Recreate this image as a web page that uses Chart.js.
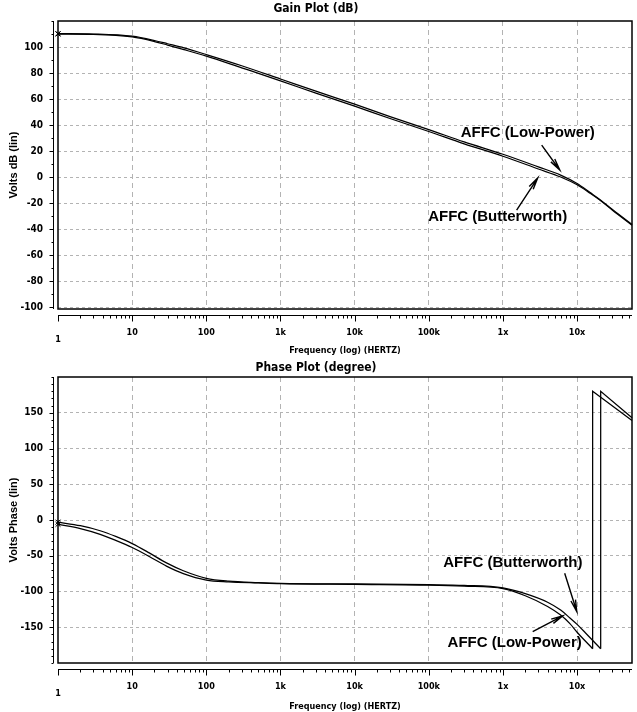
<!DOCTYPE html>
<html>
<head>
<meta charset="utf-8">
<script src="https://cdn.jsdelivr.net/npm/chart.js@4"></script>
<style>
  html, body { margin: 0; padding: 0; background: #fff; }
  .box { position: absolute; left: 0; width: 637px; height: 356px; }
</style>
</head>
<body>
<div class="box" style="top:0"><canvas id="gainChart" width="637" height="356"></canvas></div>
<div class="box" style="top:356px"><canvas id="phaseChart" width="637" height="356"></canvas></div>
<script>
// x axis (log frequency)
const freqTicks = [1, 10, 100, 1e3, 1e4, 1e5, 1e6, 1e7];
const freqLabels = ['1', '10', '100', '1k', '10k', '100k', '1x', '10x'];

// y axis tick values
const gainTicks = [100, 80, 60, 40, 20, 0, -20, -40, -60, -80, -100];
const phaseTicks = [150, 100, 50, 0, -50, -100, -150];

// gain curves (dB)
const gainFreq = [1, 3, 10, 20, 30, 50, 100, 300, 1e3, 3e3, 1e4, 3e4, 1e5, 3e5, 1e6, 3e6, 6e6, 1e7, 1.5e7, 2e7, 3e7, 5.5e7];
const gainLowPower = [110.3, 110, 108.3, 105, 102.5, 99.3, 94.2, 85.6, 75.4, 66, 56, 46.5, 36.5, 27, 17.5, 7.8, 1.5, -5, -12, -17, -25, -36.5];
const gainButterworth = [110, 109.7, 107.7, 104.2, 101.5, 98, 93, 84, 74, 64.5, 54.5, 45, 35, 25.5, 16, 6.2, 0, -6, -12.5, -17.5, -25.5, -37];

// phase curves (degree), the repeated frequency is the wrap from -180 to +180
const phaseFreqLowPower = [1, 2, 3.7, 6, 10, 17, 29, 49, 100, 200, 500, 1e3, 1e4, 1e5, 3e5, 1e6, 2e6, 4e6, 6e6, 8e6, 1e7, 1.62e7, 1.62e7, 5.5e7];
const phaseLowPower = [-6, -12, -20, -28.5, -38.5, -51, -64.5, -75, -84, -86.5, -88, -89, -90, -91, -92.5, -96, -106, -121, -133, -145, -157, -180, 180, 139];
const phaseFreqButterworth = [1, 2, 3.7, 6, 10, 17, 29, 49, 100, 200, 500, 1e3, 1e4, 1e5, 3e5, 1e6, 2e6, 4e6, 6e6, 8e6, 1e7, 1.3e7, 2.08e7, 2.08e7, 5.5e7];
const phaseButterworth = [-3, -8, -15, -23, -33, -46, -60, -71, -81.5, -85.5, -87.5, -88.5, -89.5, -90.5, -91.5, -95, -103, -115, -126, -137, -146, -158, -180, 180, 143];

const NARROW = '"Liberation Sans Narrow", "Arial Narrow", "DejaVu Sans Condensed", sans-serif';
const SANS = '"Liberation Sans", Arial, sans-serif';
const GRID = '#b3b3b3';

function drawArrow(ctx, x1, y1, x2, y2) {
  const ang = Math.atan2(y2 - y1, x2 - x1), len = 12, spread = 0.2;
  ctx.beginPath();
  ctx.moveTo(x1, y1);
  ctx.lineTo(x2, y2);
  ctx.moveTo(x2 - len * Math.cos(ang - spread), y2 - len * Math.sin(ang - spread));
  ctx.lineTo(x2, y2);
  ctx.lineTo(x2 - len * Math.cos(ang + spread), y2 - len * Math.sin(ang + spread));
  ctx.stroke();
}

// frame, separate axis strips and the text notes
const axisStrips = {
  id: 'axisStrips',
  afterDraw(chart, args, opts) {
    const { ctx, chartArea: a, scales: { x, y } } = chart;
    ctx.save();
    ctx.strokeStyle = '#000';
    ctx.lineWidth = 1.5;
    ctx.strokeRect(a.left, a.top, a.right - a.left, a.bottom - a.top);

    ctx.lineWidth = 1;
    ctx.beginPath();
    const sy = a.bottom + 6.5;
    ctx.moveTo(a.left, sy);
    ctx.lineTo(a.right, sy);
    for (let d = 1; d <= x.max; d *= 10) {
      for (let k = 1; k < 10; k++) {
        const v = k * d;
        if (v > x.max) break;
        const px = Math.round(x.getPixelForValue(v)) + 0.5;
        ctx.moveTo(px, sy);
        ctx.lineTo(px, sy + (k === 1 ? 6 : 3));
      }
    }
    const sx = a.left - 4.5;
    ctx.moveTo(sx, a.top);
    ctx.lineTo(sx, a.bottom);
    for (let v = Math.ceil(y.min / 10) * 10; v <= y.max; v += 10) {
      const py = Math.round(y.getPixelForValue(v)) + 0.5;
      ctx.moveTo(sx, py);
      ctx.lineTo(sx - (opts.major.includes(v) ? 4 : 2), py);
    }
    ctx.stroke();

    ctx.fillStyle = '#000';
    ctx.font = 'bold 15px ' + SANS;
    ctx.textAlign = 'center';
    ctx.textBaseline = 'middle';
    opts.notes.forEach(n => {
      ctx.fillText(n.text, x.getPixelForValue(n.at[0]), y.getPixelForValue(n.at[1]));
    });
    ctx.lineWidth = 1.4;
    opts.arrows.forEach(r => {
      drawArrow(ctx, x.getPixelForValue(r.from[0]), y.getPixelForValue(r.from[1]),
                     x.getPixelForValue(r.to[0]), y.getPixelForValue(r.to[1]));
    });
    ctx.restore();
  }
};

function series(freq, vals, linear) {
  return {
    data: freq.map((f, i) => ({ x: f, y: vals[i] })),
    borderColor: '#000',
    borderWidth: 1.25,
    pointStyle: 'crossRot',
    pointRadius: c => c.dataIndex === 0 ? 3.5 : 0,
    pointBorderColor: '#000',
    pointBorderWidth: 1,
    cubicInterpolationMode: linear ? 'default' : 'monotone',
    tension: 0,
    fill: false,
    clip: false
  };
}

// smooth part up to the wrap, straight part from the wrap on
function phaseSets(freq, vals) {
  const j = freq.findIndex((f, i) => i > 0 && f === freq[i - 1]);
  const tail = series(freq.slice(j - 1), vals.slice(j - 1), true);
  tail.pointRadius = 0;
  return [series(freq.slice(0, j), vals.slice(0, j)), tail];
}

function makeChart(id, o) {
  return new Chart(document.getElementById(id), {
    type: 'line',
    data: { datasets: o.datasets },
    plugins: [axisStrips],
    options: {
      responsive: false,
      animation: false,
      layout: { padding: { left: 0, right: 5, top: 0, bottom: 0 } },
      plugins: {
        legend: { display: false },
        tooltip: { enabled: false },
        title: {
          display: true, text: o.title, color: '#000',
          font: { family: NARROW, size: 12, weight: 'bold', lineHeight: 1 },
          padding: o.titlePad
        },
        axisStrips: { major: o.yTicks, notes: o.notes, arrows: o.arrows }
      },
      scales: {
        x: {
          type: 'logarithmic', min: 1, max: 5.5e7,
          afterBuildTicks: s => { s.ticks = freqTicks.map(v => ({ value: v })); },
          afterFit: s => { s.height = o.xHeight; },
          ticks: {
            autoSkip: false, maxRotation: 0, padding: 18, color: '#000',
            font: c => ({ family: NARROW, size: 9, weight: 'bold', lineHeight: c.index === 0 ? 2.8 : 1.2 }),
            callback: (v, i) => freqLabels[i]
          },
          grid: { drawTicks: false, lineWidth: 1, color: c => c.index === 0 ? 'rgba(0,0,0,0)' : GRID },
          border: { display: false, dash: [5, 4] },
          title: {
            display: true, text: 'Frequency (log) (HERTZ)', color: '#000',
            font: { family: NARROW, size: 9, weight: 'bold', lineHeight: 1.2 },
            padding: { top: o.xTitlePad, bottom: 0 }
          }
        },
        y: {
          min: o.yMin, max: o.yMax,
          afterBuildTicks: s => { s.ticks = o.yTicks.map(v => ({ value: v })); },
          afterFit: s => { s.width = 58; },
          ticks: {
            padding: 15, color: '#000',
            font: { family: NARROW, size: 10, weight: 'bold' },
            callback: v => String(v)
          },
          grid: { drawTicks: false, lineWidth: 1, color: GRID },
          border: { display: false, dash: [3, 3] },
          title: {
            display: true, text: o.yTitle, color: '#000',
            font: { family: SANS, size: 11, weight: 'bold', lineHeight: 1.2 },
            padding: { top: 7.4, bottom: 0 }
          }
        }
      }
    }
  });
}

makeChart('gainChart', {
  title: 'Gain Plot (dB)',
  titlePad: { top: 3, bottom: 6 },
  xHeight: 47,
  xTitlePad: 5,
  yMin: -101.5, yMax: 120,
  yTicks: gainTicks,
  yTitle: 'Volts dB (lin)',
  datasets: [series(gainFreq, gainLowPower), series(gainFreq, gainButterworth)],
  notes: [
    { text: 'AFFC (Low-Power)', at: [2.16e6, 33.8] },
    { text: 'AFFC (Butterworth)', at: [8.5e5, -30.8] }
  ],
  arrows: [
    { from: [3.33e6, 24.6], to: [5.83e6, 5.4] },
    { from: [1.53e6, -25.4], to: [2.94e6, -0.8] }
  ]
});

makeChart('phaseChart', {
  title: 'Phase Plot (degree)',
  titlePad: { top: 3, bottom: 3 },
  xHeight: 49,
  xTitlePad: 8,
  yMin: -200, yMax: 200,
  yTicks: phaseTicks,
  yTitle: 'Volts Phase (lin)',
  datasets: [
    ...phaseSets(phaseFreqLowPower, phaseLowPower),
    ...phaseSets(phaseFreqButterworth, phaseButterworth)
  ],
  notes: [
    { text: 'AFFC (Butterworth)', at: [1.36e6, -59.3] },
    { text: 'AFFC (Low-Power)', at: [1.44e6, -172.4] }
  ],
  arrows: [
    { from: [6.8e6, -74.5], to: [9.9e6, -128] },
    { from: [2.52e6, -156], to: [6.4e6, -134] }
  ]
});
</script>
</body>
</html>
